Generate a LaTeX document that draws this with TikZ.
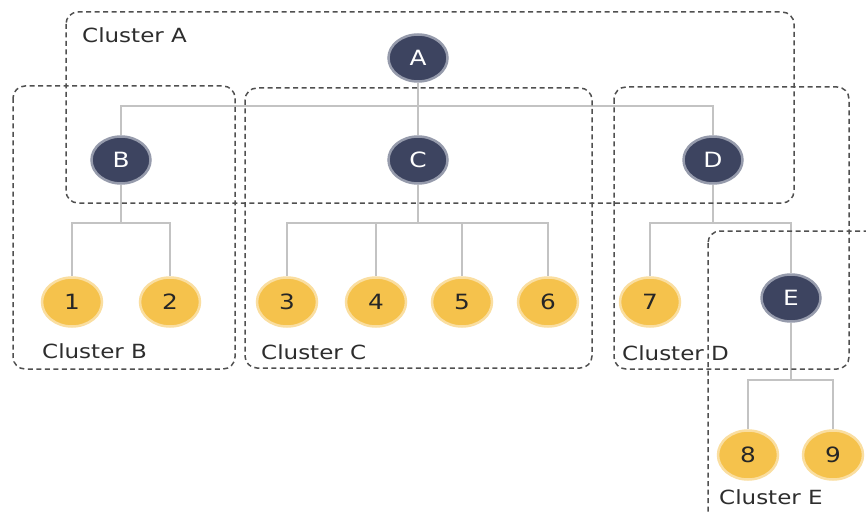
\documentclass[tikz,border=0pt]{standalone}
\usepackage{fontspec}
\setmainfont[FakeStretch=1.18]{DejaVu Sans}
\usetikzlibrary{shapes.geometric,backgrounds}
\definecolor{navy}{RGB}{61,68,96}
\definecolor{navyglow}{RGB}{150,155,172}
\definecolor{gold}{RGB}{245,194,76}
\definecolor{goldglow}{RGB}{250,222,160}
\definecolor{wire}{RGB}{195,195,195}
\definecolor{boxc}{RGB}{80,80,80}
\definecolor{labc}{RGB}{45,45,45}
\tikzset{
  inner/.style={ellipse, fill=navy, draw=navyglow, line width=2.5pt, minimum width=59pt, minimum height=47pt, inner sep=0pt, text=white, font=\fontsize{21}{21}\selectfont},
  leaf/.style={ellipse, fill=gold, draw=goldglow, line width=2.5pt, minimum width=60pt, minimum height=49pt, inner sep=0pt, text=black!85, font=\fontsize{21}{21}\selectfont},
  wirel/.style={draw=wire, line width=2pt},
  cluster/.style={draw=boxc, line width=1.5pt, dash pattern=on 5pt off 3.5pt, rounded corners=12pt},
  clabel/.style={anchor=west, inner sep=0pt, text=labc, font=\fontsize{19.5}{19.5}\selectfont}
}
\begin{document}
\begin{tikzpicture}[x=1pt,y=-1pt]
\useasboundingbox (0,0) rectangle (866,513);
\clip (0,0) rectangle (866,513);
% nodes
\node[inner] (A) at (418,58) {A};
\node[inner] (B) at (121,160) {B};
\node[inner] (C) at (418,160) {C};
\node[inner] (D) at (713,160) {D};
\node[leaf] (n1) at (72,302) {1};
\node[leaf] (n2) at (170,302) {2};
\node[leaf] (n3) at (287,302) {3};
\node[leaf] (n4) at (376,302) {4};
\node[leaf] (n5) at (462,302) {5};
\node[leaf] (n6) at (548,302) {6};
\node[leaf] (n7) at (650,302) {7};
\node[inner] (E) at (791,298) {E};
\node[leaf] (n8) at (748,455) {8};
\node[leaf] (n9) at (833,455) {9};
% connectors
\begin{scope}[on background layer]
\fill[white] (0,0) rectangle (866,513);
\path[wirel] (A) -- (C);
\path[wirel] (B.north) |- (418,106) -| (D.north);
\path[wirel] (B.south) -- (121,223);
\path[wirel] (n1.north) |- (n2.north |- 0,223) -- (n2.north);
\path[wirel] (C.south) -- (418,223);
\path[wirel] (n3.north) |- (n6.north |- 0,223) -- (n6.north);
\path[wirel] (n4.north) -- (n4.north |- 0,223);
\path[wirel] (n5.north) -- (n5.north |- 0,223);
\path[wirel] (D.south) -- (713,223);
\path[wirel] (n7.north) |- (E.north |- 0,223) -- (E.north);
\path[wirel] (E.south) -- (791,380);
\path[wirel] (n8.north) |- (n9.north |- 0,380) -- (n9.north);
\end{scope}
% clusters
\draw[cluster] (66,12) rectangle (794,203);
\draw[cluster] (13,86) rectangle (235,369);
\draw[cluster] (245,88) rectangle (592,368);
\draw[cluster] (614,87) rectangle (849,369);
\draw[cluster] (708,231) rectangle (890,530);
% labels
\node[clabel] (la) at (82,35) {Cluster A};
\node[clabel] (lb) at (42,351) {Cluster B};
\node[clabel] (lc) at (261,352) {Cluster C};
\node[clabel] (ld) at (622,353) {Cluster D};
\node[clabel] (le) at (719,497) {Cluster E};
\end{tikzpicture}
\end{document}
